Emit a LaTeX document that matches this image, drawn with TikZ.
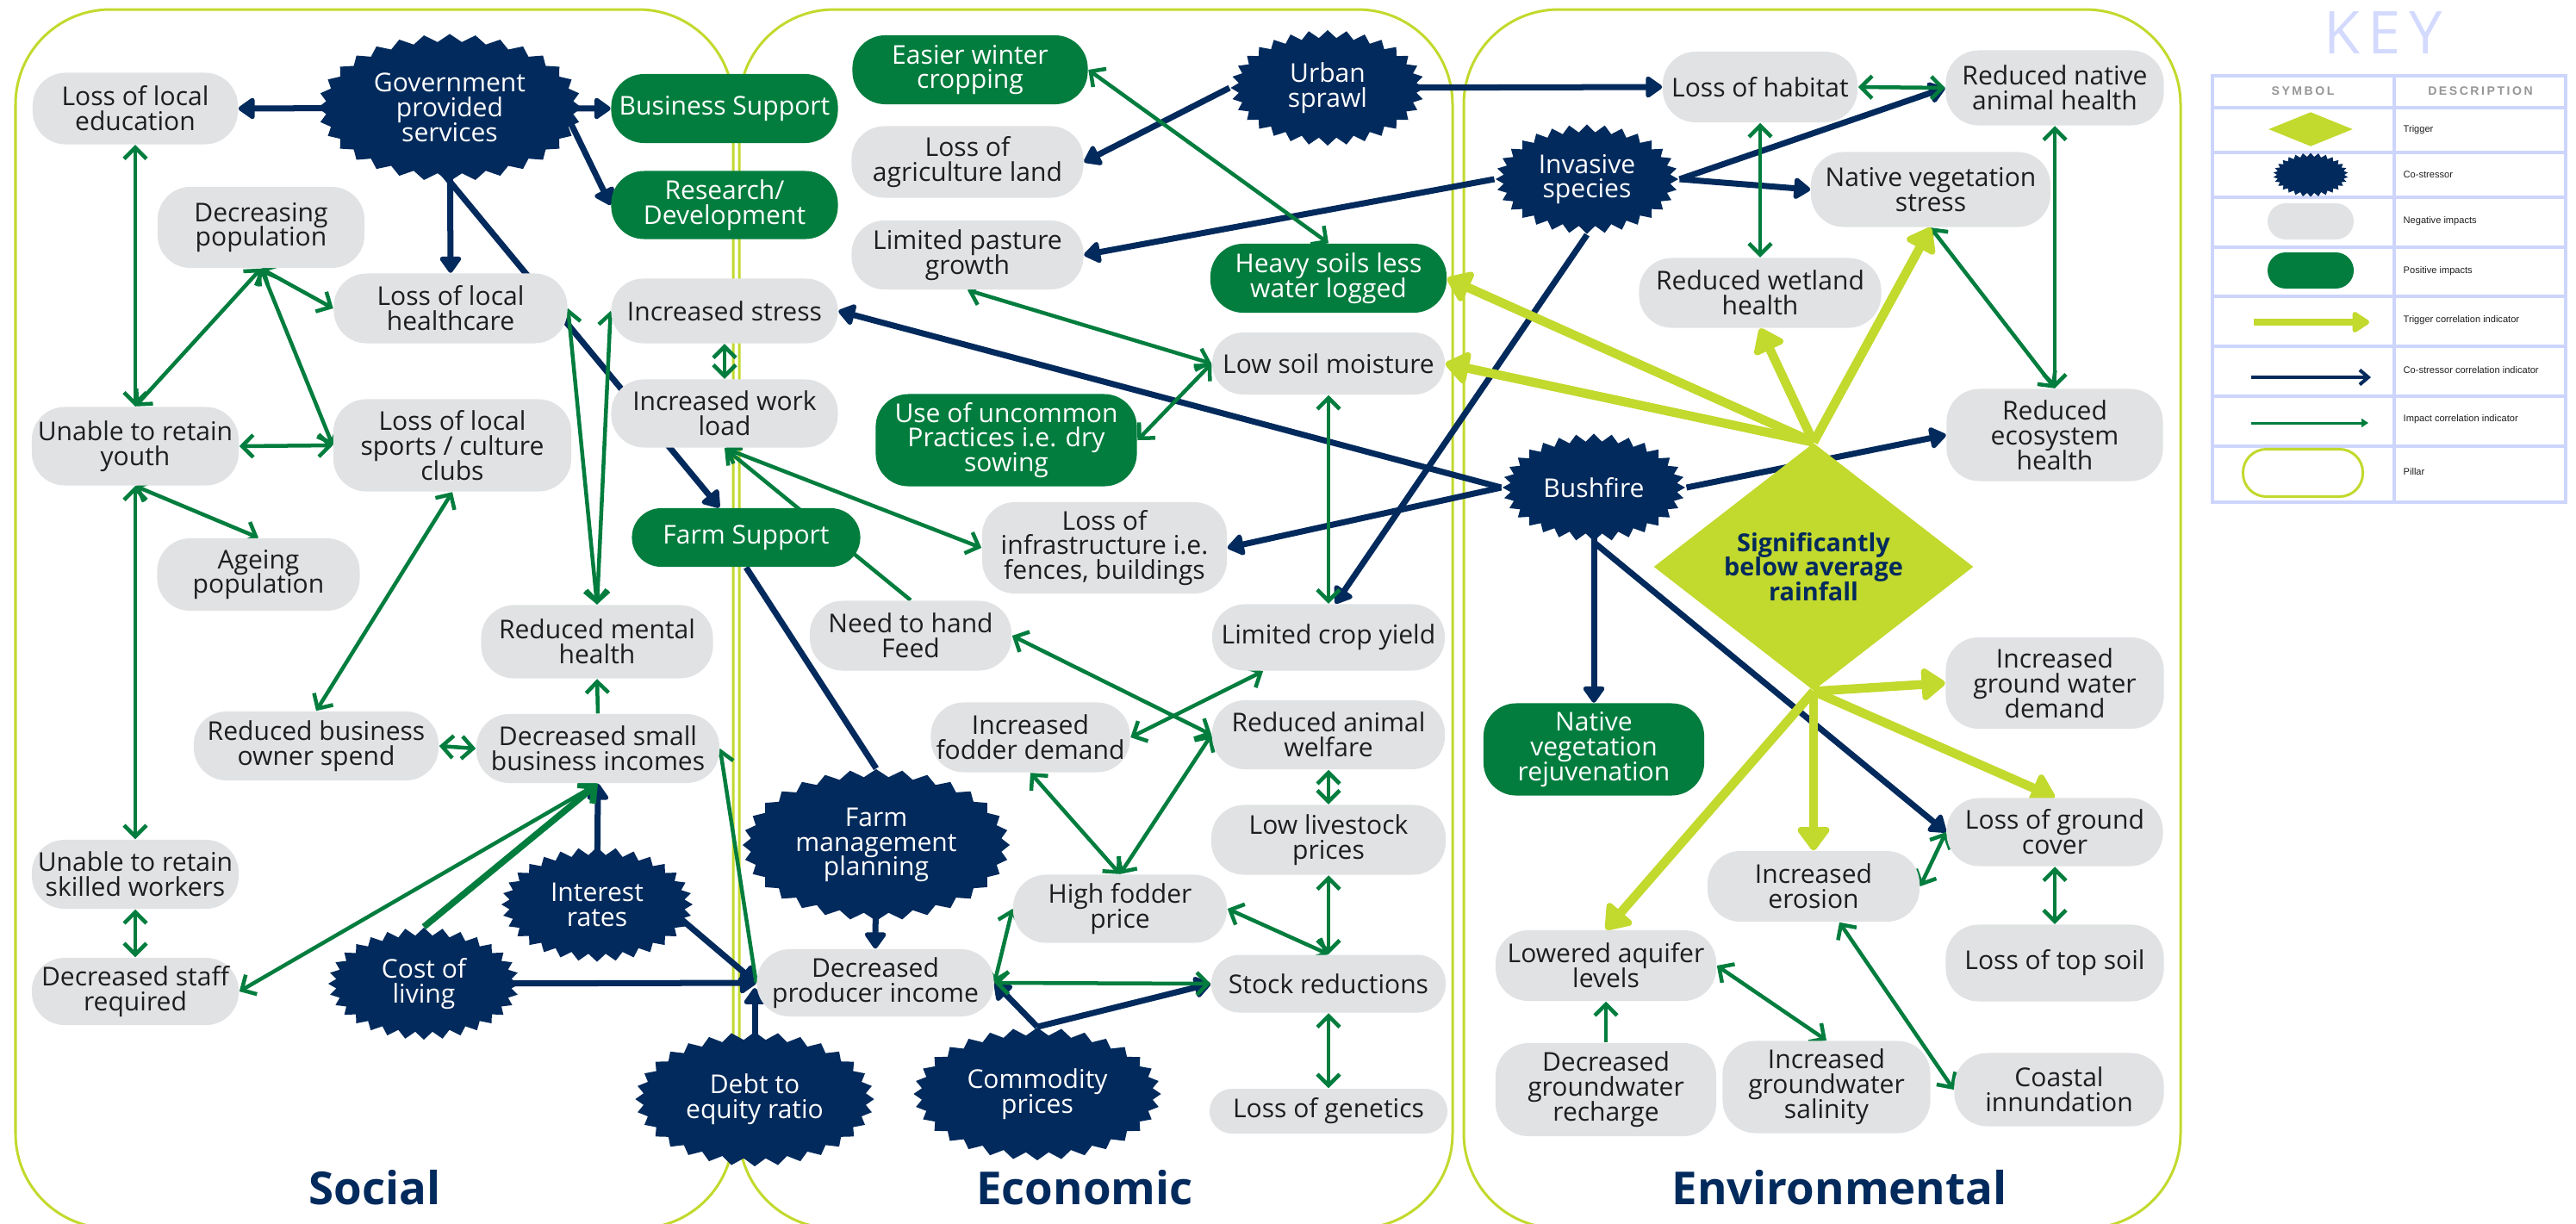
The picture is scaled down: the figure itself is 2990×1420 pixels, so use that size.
\documentclass[tikz,border=0pt]{standalone}
\usepackage{fontspec}
\setmainfont{Open Sans}
\newfontfamily\keyfont{Liberation Sans}
\newfontfamily\keyheadfont[LetterSpace=18]{Liberation Sans}
\newfontfamily\keytitlefont[LetterSpace=14]{Open Sans}
\usetikzlibrary{shapes.symbols,shapes.geometric,arrows.meta,calc}

\definecolor{navy}{RGB}{2,42,92}
\definecolor{leaf}{RGB}{2,125,62}
\definecolor{lime}{RGB}{194,217,45}
\definecolor{pale}{RGB}{225,226,228}
\definecolor{ink}{RGB}{30,30,30}
\definecolor{lav}{RGB}{205,213,252}
\definecolor{lavtext}{RGB}{211,218,254}
\definecolor{keygrey}{RGB}{150,150,150}

\pgfdeclarelayer{pillar}
\pgfdeclarelayer{edges}
\pgfsetlayers{pillar,edges,main}

\tikzset{
  wh/.style 2 args={minimum width=#1,minimum height=#2},
  basebox/.style={inner sep=0pt, align=center, font={\fontsize{8.55}{8.2}\selectfont\lineskiplimit=-20pt}},
  negbox/.style={basebox, rectangle, rounded corners=0.38cm, fill=pale, text=ink},
  posbox/.style={basebox, rectangle, rounded corners=0.38cm, fill=leaf, text=white},
  costrbox/.style={basebox, starburst, starburst points=32, starburst point height=0.09cm, random starburst=0, fill=navy, text=white},
  trigbox/.style={basebox, diamond, fill=lime, text=navy, font={\fontsize{8.2}{8.2}\selectfont\bfseries\lineskiplimit=-20pt}},
  pillarbox/.style={draw=lime, line width=0.03cm, rounded corners=1.1cm},
  pillarname/.style={text=navy, font={\fontsize{15}{18}\selectfont\bfseries}},
  coarr/.style={draw=navy, line width=0.07cm, -{Triangle[round,length=0.21cm,width=0.28cm]}},
  coline/.style={draw=navy, line width=0.07cm},
  imarr/.style={draw=leaf, line width=0.045cm, -{Straight Barb[length=0.13cm,width=0.26cm]}},
  imboth/.style={draw=leaf, line width=0.045cm, {Straight Barb[length=0.13cm,width=0.26cm]}-{Straight Barb[length=0.13cm,width=0.26cm]}},
  imthick/.style={draw=leaf, line width=0.075cm, -{Straight Barb[length=0.14cm,width=0.28cm]}},
  trarr/.style={draw=lime, line width=0.105cm, -{Triangle[round,length=0.3cm,width=0.42cm]}},
  keytext/.style={anchor=west, inner sep=0pt, text=ink, font={\keyfont\fontsize{3.15}{4}\selectfont}},
  keyhead/.style={inner sep=0pt, text=keygrey, font={\keyheadfont\fontsize{4}{5}\selectfont\bfseries}},
}

\begin{document}
\begin{tikzpicture}[x=0.01cm,y=-0.01cm]
\useasboundingbox (0,0) rectangle (2990,1420);

% ---------- pillars ----------
\begin{pgfonlayer}{pillar}
  \draw[pillarbox] (18,11) rectangle (851,1426);
  \draw[pillarbox] (858,11) rectangle (1686,1426);
  \draw[pillarbox] (1699,11) rectangle (2531,1426);
\end{pgfonlayer}
\node[pillarname] (lblsoc) at (435,1379) {Social};
\node[pillarname] (lbleco) at (1259,1379) {Economic};
\node[pillarname] (lblenv) at (2135,1379) {Environmental};

% ---------- social ----------
\node[costrbox, wh={3.06cm}{1.71cm}] (gov) at (522,125) {Government\\provided\\services};
\node[negbox, wh={2.38cm}{0.83cm}] (edu) at (157,126) {Loss of local\\education};
\node[posbox, wh={2.63cm}{0.80cm}] (bizsup) at (841,126) {Business Support};
\node[posbox, wh={2.63cm}{0.79cm}] (rnd) at (841,238) {Research/\\Development};
\node[negbox, wh={2.40cm}{0.94cm}] (decpop) at (303,264) {Decreasing\\population};
\node[negbox, wh={2.71cm}{0.81cm}] (health) at (523,358) {Loss of local\\healthcare};
\node[negbox, wh={2.63cm}{0.75cm}, rounded corners=0.37cm] (stress) at (841,361) {Increased stress};
\node[negbox, wh={2.63cm}{0.79cm}] (work) at (841,480) {Increased work\\load};
\node[negbox, wh={2.40cm}{0.91cm}] (youth) at (157,518) {Unable to retain\\youth};
\node[negbox, wh={2.76cm}{1.07cm}] (sports) at (525,517) {Loss of local\\sports / culture\\clubs};
\node[posbox, wh={2.65cm}{0.68cm}, rounded corners=0.34cm] (farmsup) at (866,624) {Farm Support};
\node[negbox, wh={2.35cm}{0.84cm}] (ageing) at (300,667) {Ageing\\population};
\node[negbox, wh={2.69cm}{0.85cm}] (mental) at (693,745) {Reduced mental\\health};
\node[negbox, wh={2.84cm}{0.80cm}] (ownspend) at (367,866) {Reduced business\\owner spend};
\node[negbox, wh={2.82cm}{0.80cm}] (smallbiz) at (694,869) {Decreased small\\business incomes};
\node[negbox, wh={2.40cm}{0.80cm}] (skilled) at (157,1015) {Unable to retain\\skilled workers};
\node[negbox, wh={2.40cm}{0.78cm}] (staff) at (157,1151) {Decreased staff\\required};
\node[costrbox, wh={2.22cm}{1.33cm}] (interest) at (693,1050) {Interest\\rates};
\node[costrbox, wh={2.22cm}{1.30cm}] (living) at (492,1142) {Cost of\\living};
\node[costrbox, wh={2.77cm}{1.56cm}] (debt) at (876,1276) {Debt to\\equity ratio};

% ---------- economic ----------
\node[posbox, wh={2.73cm}{0.80cm}] (winter) at (1126,81) {Easier winter\\cropping};
\node[costrbox, wh={2.25cm}{1.34cm}] (urban) at (1541,102) {Urban\\sprawl};
\node[negbox, wh={2.69cm}{0.83cm}] (agri) at (1123,188) {Loss of\\agriculture land};
\node[negbox, wh={2.69cm}{0.80cm}] (pasture) at (1123,296) {Limited pasture\\growth};
\node[posbox, wh={2.74cm}{0.80cm}] (heavy) at (1542,323) {Heavy soils less\\water logged};
\node[negbox, wh={2.70cm}{0.72cm}, rounded corners=0.36cm] (soil) at (1542,422) {Low soil moisture};
\node[posbox, wh={3.03cm}{1.07cm}] (uncommon) at (1168,511) {Use of uncommon\\Practices i.e. dry\\sowing};
\node[negbox, wh={2.84cm}{1.06cm}] (infra) at (1282,636) {Loss of\\infrastructure i.e.\\fences, buildings};
\node[negbox, wh={2.34cm}{0.81cm}] (handfeed) at (1057,738) {Need to hand\\Feed};
\node[negbox, wh={2.70cm}{0.77cm}] (crop) at (1542,740) {Limited crop yield};
\node[negbox, wh={2.31cm}{0.81cm}] (fodderdem) at (1196,856) {Increased\\fodder demand};
\node[negbox, wh={2.70cm}{0.80cm}] (welfare) at (1542,853) {Reduced animal\\welfare};
\node[costrbox, wh={3.10cm}{1.76cm}] (fmp) at (1017,981) {Farm\\management\\planning};
\node[negbox, wh={2.72cm}{0.81cm}] (livestock) at (1542,975) {Low livestock\\prices};
\node[negbox, wh={2.48cm}{0.79cm}] (fodderprice) at (1300,1055) {High fodder\\price};
\node[negbox, wh={2.75cm}{0.78cm}] (producer) at (1016,1141) {Decreased\\producer income};
\node[negbox, wh={2.72cm}{0.67cm}, rounded corners=0.33cm] (stock) at (1542,1142) {Stock reductions};
\node[costrbox, wh={2.87cm}{1.54cm}] (commodity) at (1204,1270) {Commodity\\prices};
\node[negbox, wh={2.76cm}{0.52cm}, rounded corners=0.26cm] (genetics) at (1542,1290) {Loss of genetics};

% ---------- environmental ----------
\node[negbox, wh={2.26cm}{0.82cm}] (habitat) at (2043,101) {Loss of habitat};
\node[negbox, wh={2.53cm}{0.87cm}] (nativeanimal) at (2385,102) {Reduced native\\animal health};
\node[costrbox, wh={2.12cm}{1.27cm}] (invasive) at (1842,208) {Invasive\\species};
\node[negbox, wh={2.78cm}{0.87cm}] (vegstress) at (2241,220) {Native vegetation\\stress};
\node[negbox, wh={2.81cm}{0.81cm}] (wetland) at (2043,340) {Reduced wetland\\health};
\node[negbox, wh={2.51cm}{1.07cm}] (ecosystem) at (2385,505) {Reduced\\ecosystem\\health};
\node[costrbox, wh={2.12cm}{1.25cm}] (bushfire) at (1850,566) {Bushfire};
\node[trigbox, minimum width=3.71cm, minimum height=2.19cm] (rain) at (2105,658) {Significantly\\below average\\rainfall};
\node[posbox, wh={2.56cm}{1.07cm}] (rejuv) at (1850,870) {Native\\vegetation\\rejuvenation};
\node[negbox, wh={2.53cm}{1.06cm}] (gwdemand) at (2385,793) {Increased\\ground water\\demand};
\node[negbox, wh={2.51cm}{0.79cm}] (groundcover) at (2385,966) {Loss of ground\\cover};
\node[negbox, wh={2.46cm}{0.82cm}] (erosion) at (2105,1029) {Increased\\erosion};
\node[negbox, wh={2.53cm}{0.89cm}] (topsoil) at (2385,1118) {Loss of top soil};
\node[negbox, wh={2.56cm}{0.82cm}] (aquifer) at (1864,1121) {Lowered aquifer\\levels};
\node[negbox, wh={2.56cm}{1.08cm}] (recharge) at (1864,1265) {Decreased\\groundwater\\recharge};
\node[negbox, wh={2.41cm}{1.07cm}] (salinity) at (2120,1262) {Increased\\groundwater\\salinity};
\node[negbox, wh={2.43cm}{0.85cm}] (coastal) at (2390,1265) {Coastal\\innundation};

% ---------- connectors ----------
\begin{pgfonlayer}{edges}
  % co-stressor links
  \draw[coarr] (gov.center) -- (edu.east);
  \draw[coarr] (gov.center) -- (bizsup.west);
  \draw[coarr] ($(gov.center)+(140,17)$) -- (rnd.west);
  \draw[coarr] (gov.center) -- (health.north);
  \draw[coarr] ($(gov.center)+(-17,65)$) -- ($(farmsup.north)+(-31,0)$);
  \draw[coline] (farmsup.south) -- (fmp.north);
  \draw[coarr] (interest.center) -- (smallbiz.south);
  \draw[coarr] ($(interest.center)+(87,8)$) -- (producer.west);
  \draw[coarr] (living.center) -- (producer.west);
  \draw[coarr] (debt.center) -- ($(debt.center |- producer.west)+(0,6)$);
  \draw[coarr] (fmp.center) -- (producer.north);
  \draw[coarr] (commodity.north) -- (stock.west);
  \draw[coarr] (commodity.north) -- (producer.east);
  \draw[coarr] (urban.west) -- (agri.east);
  \draw[coarr] (urban.center) -- (habitat.west);
  \draw[coarr] (invasive.west) -- (pasture.east);
  \draw[coarr] (invasive.south) -- ($(crop.north)+(8,0)$);
  \draw[coarr] (invasive.east) -- (nativeanimal.west);
  \draw[coarr] (invasive.east) -- (vegstress.west);
  \draw[coarr] (bushfire.west) -- (stress.east);
  \draw[coarr] (bushfire.west) -- (infra.east);
  \draw[coarr] (bushfire.east) -- (ecosystem.west);
  \draw[coarr] (bushfire.center) -- (rejuv.north);
  \draw[coarr] (bushfire.south) -- (groundcover.west);

  % impact links, social
  \draw[imboth] (decpop.south) -- (health.west);
  \draw[imboth] (decpop.south) -- (youth.north);
  \draw[imboth] (decpop.south) -- (sports.west);
  \draw[imboth] (edu.south) -- (youth.north);
  \draw[imboth] (youth.east) -- (sports.west);
  \draw[imboth] (youth.south) -- (ageing.north);
  \draw[imboth] (youth.south) -- (skilled.north);
  \draw[imboth] (skilled.south) -- (staff.north);
  \draw[imboth] (sports.south) -- (ownspend.north);
  \draw[imboth] (ownspend.east) -- (smallbiz.west);
  \draw[imarr] (smallbiz.north) -- (mental.south);
  \draw[imboth] (health.east) -- (mental.north);
  \draw[imboth] (stress.west) -- (mental.north);
  \draw[imboth] (stress.south) -- (work.north);
  \draw[imarr] (handfeed.north) -- (work.south);
  \draw[imboth] (work.south) -- (infra.west);
  \draw[imthick] (living.north) -- (smallbiz.south);
  \draw[imboth] (smallbiz.south) -- (staff.east);
  \draw[imarr] (producer.west) -- (smallbiz.east);

  % impact links, economic
  \draw[imboth] (producer.east) -- (fodderprice.west);
  \draw[imboth] (producer.east) -- (stock.west);
  \draw[imboth] (fodderprice.east) -- (stock.north);
  \draw[imboth] (stock.north) -- (livestock.south);
  \draw[imboth] (stock.south) -- (genetics.north);
  \draw[imboth] (welfare.south) -- (livestock.north);
  \draw[imboth] (fodderdem.south) -- (fodderprice.north);
  \draw[imboth] (welfare.west) -- (fodderprice.north);
  \draw[imboth] (handfeed.east) -- (welfare.west);
  \draw[imboth] (fodderdem.east) -- ($(crop.south)+(-76,0)$);
  \draw[imboth] (soil.south) -- (crop.north);
  \draw[imboth] (winter.east) -- (heavy.north);
  \draw[imboth] (pasture.south) -- (soil.west);
  \draw[imboth] (soil.west) -- (uncommon.east);

  % impact links, environmental
  \draw[imboth] (habitat.east) -- (nativeanimal.west);
  \draw[imboth] (habitat.south) -- (wetland.north);
  \draw[imboth] (nativeanimal.south) -- (ecosystem.north);
  \draw[imboth] (vegstress.south) -- (ecosystem.north);
  \draw[imboth] (groundcover.west) -- (erosion.east);
  \draw[imboth] (groundcover.south) -- (topsoil.north);
  \draw[imboth] (aquifer.east) -- (salinity.north);
  \draw[imarr] (recharge.north) -- (aquifer.south);
  \draw[imboth] ($(erosion.south)+(30,0)$) -- (coastal.west);

  % trigger links
  \draw[trarr] (rain.north) -- (heavy.east);
  \draw[trarr] (rain.north) -- (soil.east);
  \draw[trarr] (rain.north) -- (wetland.south);
  \draw[trarr] (rain.north) -- (vegstress.south);
  \draw[trarr] (rain.south) -- (gwdemand.west);
  \draw[trarr] (rain.south) -- (groundcover.north);
  \draw[trarr] (rain.south) -- (erosion.north);
  \draw[trarr] (rain.south) -- (aquifer.north);
\end{pgfonlayer}

% ---------- key ----------
\node[text=lavtext, inner sep=0pt, font={\keytitlefont\fontsize{19.5}{22}\selectfont}] (keyttl) at (2766,38) {KEY};
\draw[lav, line width=0.04cm] (2568,88) rectangle (2978,583);
\draw[lav, line width=0.04cm] (2779,88) -- (2779,583);
\foreach \yy in {125,177,229,287,344,402,460,518}
  \draw[lav, line width=0.04cm] (2568,\yy) -- (2978,\yy);
\node[keyhead] (khsym) at (2673,106) {SYMBOL};
\node[keyhead] (khdesc) at (2879,106) {DESCRIPTION};

\node[trigbox, minimum width=0.98cm, minimum height=0.40cm] (ktrig) at (2682,150) {};
\node[costrbox, starburst points=30, starburst point height=0.045cm, wh={0.87cm}{0.51cm}] (kcost) at (2682,203) {};
\node[negbox, wh={1.0cm}{0.42cm}, rounded corners=0.21cm] (kneg) at (2682,257) {};
\node[posbox, wh={1.0cm}{0.42cm}, rounded corners=0.21cm] (kpos) at (2682,314) {};
\coordinate (ktra) at (2616,374);
\coordinate (ktrb) at (2750,374);
\draw[draw=lime, line width=0.075cm, -{Triangle[round,length=0.22cm,width=0.27cm]}] (ktra) -- (ktrb);
\coordinate (kcoa) at (2613,438);
\coordinate (kcob) at (2752,438);
\draw[draw=navy, line width=0.04cm, -{Straight Barb[length=0.1cm,width=0.17cm]}] (kcoa) -- (kcob);
\coordinate (kima) at (2613,491);
\coordinate (kimb) at (2749,491);
\draw[draw=leaf, line width=0.03cm, -{Triangle[length=0.08cm,width=0.1cm]}] (kima) -- (kimb);
\node[draw=lime, line width=0.03cm, rounded corners=0.27cm, wh={1.39cm}{0.55cm}, inner sep=0pt] (kpillar) at (2673,549) {};

\node[keytext] (kd1) at (2789,151) {Trigger};
\node[keytext] (kd2) at (2789,203) {Co-stressor};
\node[keytext] (kd3) at (2789,257) {Negative impacts};
\node[keytext] (kd4) at (2789,315) {Positive impacts};
\node[keytext] (kd5) at (2789,372) {Trigger correlation indicator};
\node[keytext] (kd6) at (2789,430) {Co-stressor correlation indicator};
\node[keytext] (kd7) at (2789,487) {Impact correlation indicator};
\node[keytext] (kd8) at (2789,548) {Pillar};
\end{tikzpicture}
\end{document}
